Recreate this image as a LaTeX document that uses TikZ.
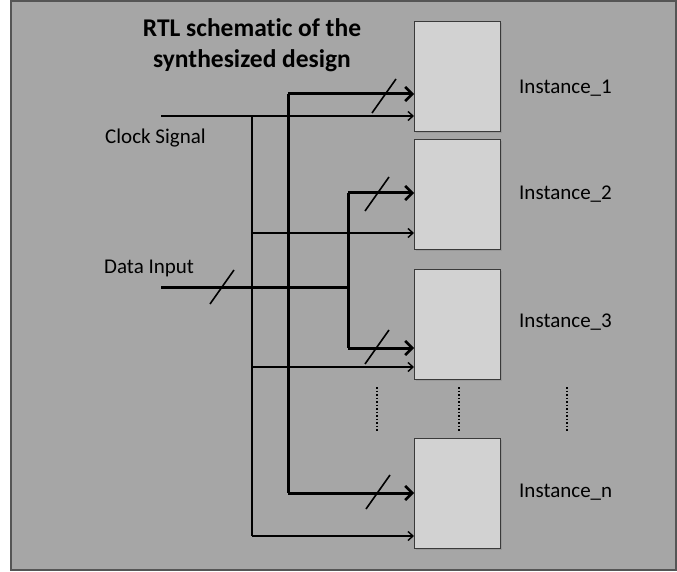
\documentclass[tikz,border=0pt]{standalone}
\usepackage{fontspec}
\setmainfont[Ligatures=CommonOff]{Carlito}
\usetikzlibrary{arrows.meta,shadows,calc}
\definecolor{bg}{HTML}{A6A6A6}
\definecolor{boxfill}{HTML}{D2D2D2}
\definecolor{boxline}{HTML}{3A3A3A}
\definecolor{frame}{HTML}{555555}
\begin{document}
\begin{tikzpicture}[x=1pt,y=-1pt,
  instbox/.style={draw=boxline,line width=1.2pt,fill=boxfill,minimum width=86pt,minimum height=110pt,anchor=north west,inner sep=0pt,
    drop shadow={shadow xshift=1.5pt,shadow yshift=-1.5pt,opacity=0.35}},
  lbl/.style={font=\fontsize{21}{25}\selectfont,inner sep=0pt},
  wire/.style={line width=1.4pt,black},
  wirearr/.style={wire,-{Straight Barb[length=5pt,width=9pt,line width=1.4pt]}},
  bus/.style={line width=3pt,black},
  busarr/.style={bus,-{Straight Barb[length=7pt,width=14pt,line width=2.6pt]}},
  slashmark/.style={line width=1.6pt,black},
  dots/.style={line width=1.5pt,dotted,black}]
\useasboundingbox (0,0) rectangle (677,572);
\draw[fill=bg,draw=frame,line width=2pt] (11,1) rectangle (676,570);

% title
\node[font=\bfseries\fontsize{25.5}{31}\selectfont,align=center,inner sep=0pt] (title) at (252,45) {RTL schematic of the\\synthesized design};

% instances
\node[instbox] (b1) at (414,21) {};
\node[instbox] (b2) at (414,139) {};
\node[instbox] (b3) at (414,269) {};
\node[instbox] (bn) at (414,438) {};

\node[lbl,anchor=west] (l1) at (519,88) {Instance\_1};
\node[lbl,anchor=west] (l2) at (519,194) {Instance\_2};
\node[lbl,anchor=west] (l3) at (519,322) {Instance\_3};
\node[lbl,anchor=west] (ln) at (519,492) {Instance\_n};

\node[lbl,anchor=west] (clk) at (105,138) {Clock Signal};
\node[lbl,anchor=west] (din) at (104,268) {Data Input};

% clock wiring
\coordinate (cs) at (161,116);
\coordinate (cj) at (252,116);
\coordinate (cb) at (252,536);
\coordinate (y2c) at (0,233);
\coordinate (y3c) at (0,367);
\coordinate (ync) at (0,536);
\draw[wirearr] (cs) -- (b1.west |- cs);
\draw[wire] (cj) -- (cb);
\draw[wirearr] (cj |- y2c) -- (b2.west |- y2c);
\draw[wirearr] (cj |- y3c) -- (b3.west |- y3c);
\draw[wirearr] (cb) -- (bn.west |- ync);

% data bus
\coordinate (ds) at (161,287);
\coordinate (dj) at (288,287);
\coordinate (dk) at (348,287);
\coordinate (dt) at (288,94);
\coordinate (db) at (288,493);
\coordinate (kt) at (348,193);
\coordinate (kb) at (348,348);
\draw[bus] (ds) -- (dk);
\draw[bus] (dt) -- (db);
\draw[busarr] (dt) -- (b1.west |- dt);
\draw[busarr] (db) -- (bn.west |- db);
\draw[bus] (kt) -- (kb);
\draw[busarr] (kt) -- (b2.west |- kt);
\draw[busarr] (kb) -- (b3.west |- kb);

% bus width slashes
\foreach \x/\y in {222/287, 384/96, 377/194, 377/347, 378/492}
  \draw[slashmark] (\x-12,\y+17) -- (\x+12,\y-17);

% continuation dots
\draw[dots] (377,387) -- (377,432);
\draw[dots] (459,387) -- (459,432);
\draw[dots] (567,387) -- (567,432);
\end{tikzpicture}
\end{document}
